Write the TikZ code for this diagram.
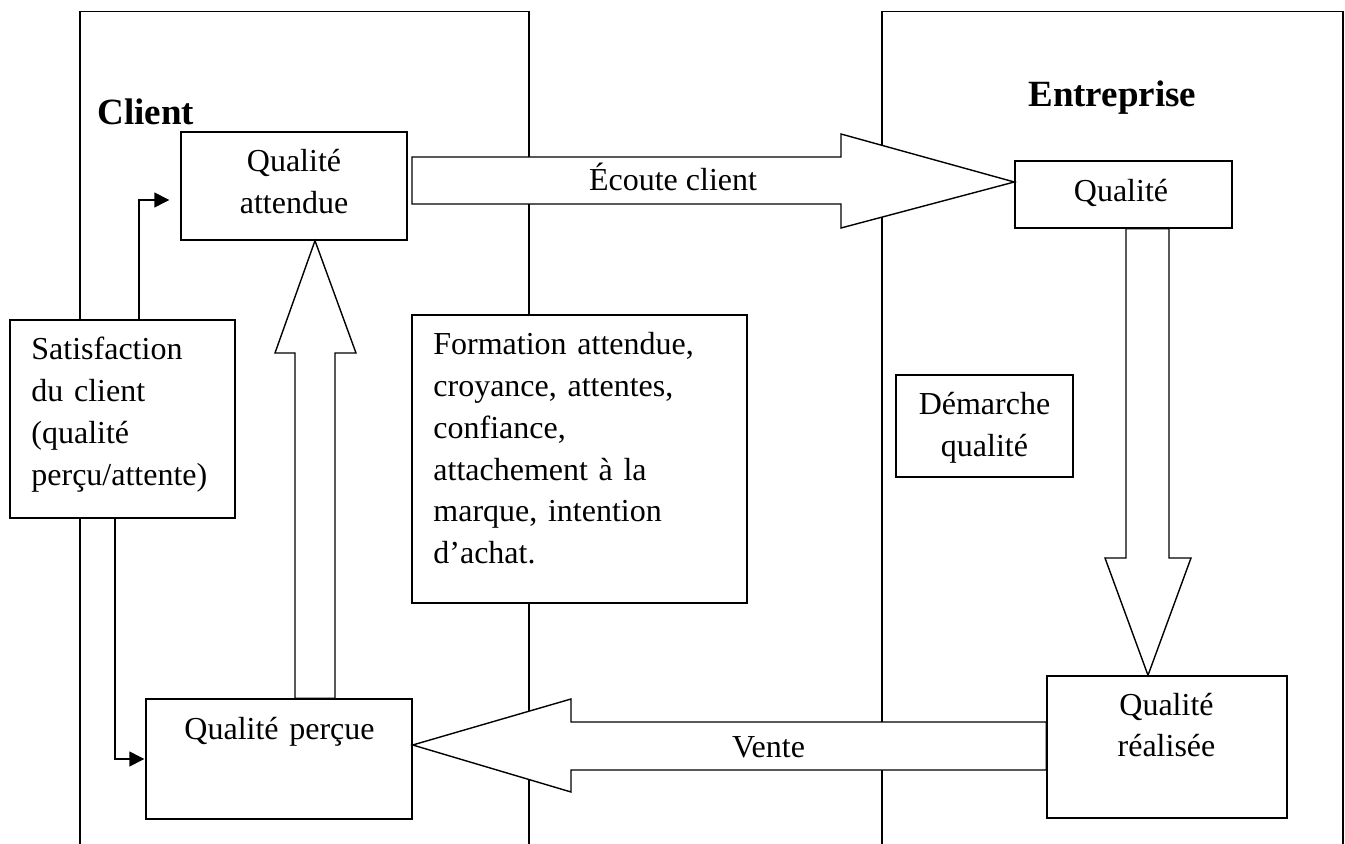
\documentclass[tikz,border=0pt]{standalone}
\usepackage{fontspec}
\setmainfont{Liberation Serif}
\usetikzlibrary{arrows.meta,fit}

\begin{document}
\begin{tikzpicture}[x=0.5pt,y=-0.5pt,
  panel/.style={line width=0.7pt},
  box/.style={draw,fill=white,line width=0.7pt,inner sep=0pt},
  blockarrow/.style={draw,fill=white,line width=0.7pt,line join=miter},
  txt/.style={inner sep=0pt,font=\fontsize{16}{20.85}\selectfont},
  ctxt/.style={txt,align=center},
  ltxt/.style={txt,align=left},
  headtxt/.style={inner sep=0pt,font=\fontsize{18.5}{22}\selectfont\bfseries},
  link/.style={line width=0.7pt,-{Triangle[length=7.5pt,width=7.5pt]}}
]
\useasboundingbox (0,0) rectangle (1345,844);

% the two open panels
\draw[panel] (80,844) -- (80,11.5) -- (529,11.5) -- (529,844);
\draw[panel] (882,844) -- (882,11.5) -- (1343,11.5) -- (1343,844);

% panel titles
\node[headtxt,anchor=base west] (client) at (97,125) {Client};
\node[headtxt,anchor=base west] (entreprise) at (1028,107) {Entreprise};

% boxes
\node[box,fit={(181,132) (407,240)}] (qa) {};
\node[box,fit={(1015,161) (1232,228)}] (qe) {};
\node[box,fit={(146,699) (412,819)}] (qp) {};
\node[box,fit={(1047,676) (1287,818)}] (qr) {};
\node[box,fit={(10,320) (235,518)}] (sat) {};
\node[box,fit={(412,315) (747,603)}] (form) {};
\node[box,fit={(896,375) (1073,477)}] (dem) {};

% block arrows
\draw[blockarrow] (412,157) -- (841,157) -- (841,134) -- (qe.west |- 0,182)
  -- (841,228) -- (841,204) -- (412,204) -- cycle;
\draw[blockarrow] (qe.south -| 1126,0) -- (1126,558) -- (1105,558) -- (qr.north -| 1148,0)
  -- (1191,558) -- (1169,558) -- (qe.south -| 1169,0) -- cycle;
\draw[blockarrow] (qr.west |- 0,722) -- (571,722) -- (571,699) -- (qp.east |- 0,745)
  -- (571,792) -- (571,770) -- (qr.west |- 0,770) -- cycle;
\draw[blockarrow] (qp.north -| 295,0) -- (295,353) -- (275,353) -- (qa.south -| 315,0)
  -- (356,353) -- (335,353) -- (qp.north -| 335,0) -- cycle;

% feedback links from the satisfaction box
\coordinate (ua) at (139,200);
\coordinate (ub) at (115,759);
\draw[link,shorten >=5.5pt] (sat.north -| ua) -- (ua) -- (qa.west |- ua);
\draw[link,shorten >=0.5pt] (sat.south -| ub) -- (ub) -- (qp.west |- ub);

% texts
\node[ctxt,text width=110pt,anchor=base] (qa-t) at (294,172) {Qualité\\attendue};
\node[ctxt,text width=100pt,anchor=base] (qe-t) at (1121,202) {Qualité};
\node[ctxt,text width=125pt,anchor=base] (qp-t) at (279.5,740) {Qualité perçue};
\node[ctxt,text width=110pt,anchor=base] (qr-t) at (1166.5,715) {Qualité\\réalisée};
\node[ltxt,text width=100pt,anchor=base west] (sat-t) at (31,360)
  {Satisfaction\\du client\\(qualité\\perçu/attente)};
\node[ltxt,text width=150pt,anchor=base west] (form-t) at (433,355)
  {Formation attendue,\\croyance, attentes,\\confiance,\\attachement à la\\marque, intention\\d’achat.};
\node[ctxt,text width=80pt,anchor=base] (dem-t) at (984.5,415) {Démarche\\qualité};
\node[txt,anchor=base] (ec-t) at (673,191) {Écoute client};
\node[txt,anchor=base] (ve-t) at (768.5,757.5) {Vente};
\end{tikzpicture}
\end{document}
